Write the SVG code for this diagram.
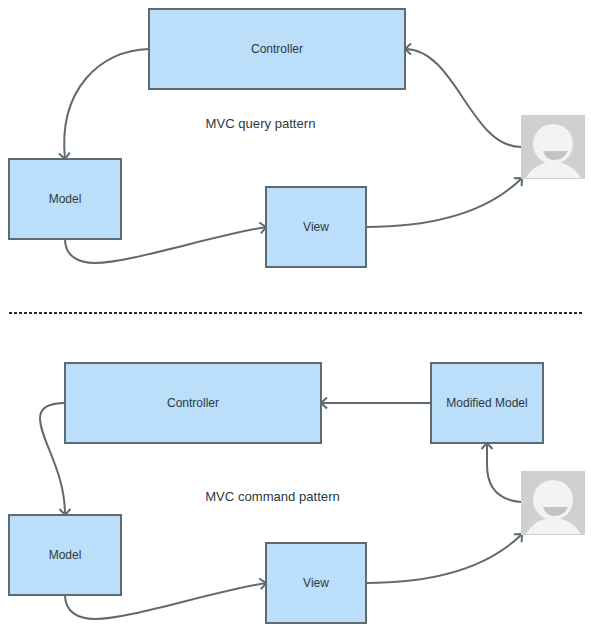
<svg xmlns="http://www.w3.org/2000/svg" width="591" height="629" viewBox="0 0 591 629">
<style>
.n{fill:#bbdefb;stroke:#5f6b72;stroke-width:2}
.t{font-family:"Liberation Sans",Arial,sans-serif;font-size:12px;fill:#2b3a42;text-anchor:middle}
.cap{font-size:13.1px}
.c{fill:none;stroke:#5f6b72;stroke-width:2}
.a{fill:#cfd1d1}.h{fill:#f3f3f3}.s{fill:#c2c4c4}
</style>
<defs>
<marker id="arr" markerUnits="userSpaceOnUse" markerWidth="14" markerHeight="14" refX="10" refY="7" orient="auto"><path d="M4 1.500L10 7L4 12.500" fill="none" stroke="#5f6b72" stroke-width="2"/></marker>
<g id="avatar"><rect class="a" x="0" y="0" width="64" height="64"/><path class="h" d="M5 63Q14 47 32 47Q50 47 60 63Z"/><circle class="h" cx="32" cy="29" r="20"/><path class="s" d="M22 36H47Q43 45 33 45Q25 45 22 36Z"/></g>
</defs>
<rect width="591" height="629" fill="#fff"/>
<g id="connectors">
<path class="c" marker-end="url(#arr)" d="M149 49C100 50 58 90 65 159"/>
<path class="c" marker-end="url(#arr)" d="M65 239C65 256 78 263 95 263C130 263 210 236 266 227"/>
<path class="c" marker-end="url(#arr)" d="M366 227C440 227 490 210 522 178"/>
<path class="c" marker-end="url(#arr)" d="M521 147C470 147 456 49 405 49"/>
<path class="c" marker-end="url(#arr)" d="M65 403C45 403 40 410 40 418C40 440 65 470 65 515"/>
<path class="c" marker-end="url(#arr)" d="M65 595C65 612 78 619 95 619C130 619 210 592 266 583"/>
<path class="c" marker-end="url(#arr)" d="M366 583C440 583 490 566 522 534"/>
<path class="c" marker-end="url(#arr)" d="M521 502C498 500 487 488 487 465L487 443"/>
<path class="c" marker-end="url(#arr)" d="M431 403H321"/>
</g>
<g id="controller1"><rect class="n" x="149" y="9" width="256" height="80"/><text class="t" x="277" y="53">Controller</text></g>
<g id="model1"><rect class="n" x="9" y="159" width="112" height="80"/><text class="t" x="65" y="203">Model</text></g>
<g id="view1"><rect class="n" x="266" y="187" width="100" height="80"/><text class="t" x="316" y="231">View</text></g>
<g id="user1"><use href="#avatar" x="521" y="115"/></g>
<g id="controller2"><rect class="n" x="65" y="363" width="256" height="80"/><text class="t" x="193" y="407">Controller</text></g>
<g id="modified"><rect class="n" x="431" y="363" width="112" height="80"/><text class="t" x="487" y="407">Modified Model</text></g>
<g id="model2"><rect class="n" x="9" y="515" width="112" height="80"/><text class="t" x="65" y="559">Model</text></g>
<g id="view2"><rect class="n" x="266" y="543" width="100" height="80"/><text class="t" x="316" y="587">View</text></g>
<g id="user2"><use href="#avatar" x="521" y="471"/></g>
<line x1="9" y1="313" x2="582" y2="313" stroke="#1f2a44" stroke-width="2" stroke-dasharray="3 2"/>
<text class="t cap" x="260.500" y="128">MVC query pattern</text>
<text class="t cap" x="272.500" y="501">MVC command pattern</text>
</svg>
